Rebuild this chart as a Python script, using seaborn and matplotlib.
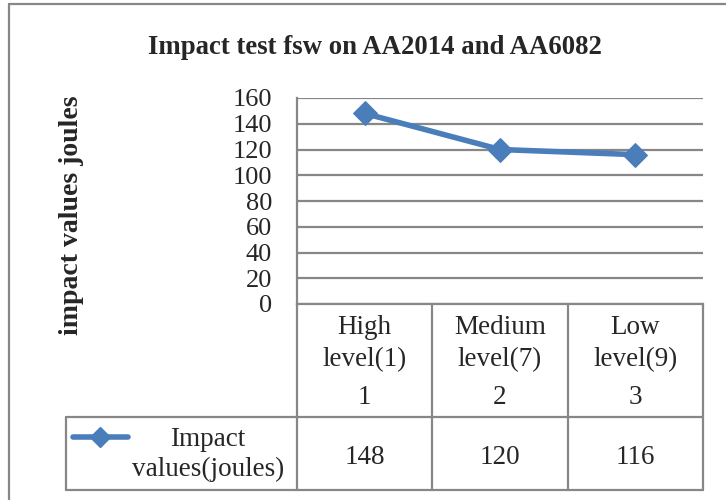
import matplotlib
matplotlib.use('Agg')
import matplotlib.pyplot as plt
import seaborn as sns
import pandas as pd
from matplotlib.lines import Line2D

sns.set_style("white")
plt.rcParams['font.family'] = ['Liberation Serif', 'DejaVu Serif']

# data
levels = ["High\nlevel(1)", "Medium\nlevel(7)", "Low\nlevel(9)"]
level_ids = [1, 2, 3]
impact = [148, 120, 116]
series_name = "Impact\nvalues(joules)"
yticks = [0, 20, 40, 60, 80, 100, 120, 140, 160]

LINE_BLUE = "#4A7EBB"
GRID = "#878787"

df = pd.DataFrame({"pos": range(len(levels)), "impact": impact})

fig = plt.figure(figsize=(7.26, 5.0), dpi=100)
ax = fig.add_axes([297/726, 1 - 304/500, 406/726, 206/500])

sns.lineplot(data=df, x="pos", y="impact", ax=ax, color=LINE_BLUE, lw=4,
             marker="D", markersize=12, markeredgecolor=LINE_BLUE)

ax.set_xlim(-0.5, len(levels) - 0.5)
ax.set_ylim(0, 160)
ax.set_yticks(yticks)
ax.set_yticklabels([str(v) for v in yticks], fontsize=19)
ax.tick_params(axis='y', length=0, pad=18)
ax.set_xticks([])
ax.set_xlabel(""); ax.set_ylabel("")
ax.yaxis.grid(True, color=GRID, lw=1.6)
ax.set_axisbelow(True)
for s in ["top", "right"]:
    ax.spines[s].set_visible(False)
for s in ["left", "bottom"]:
    ax.spines[s].set_color(GRID)
    ax.spines[s].set_linewidth(1.6)

# data table below the plot (x in data units, y in axes fraction)
tr = ax.get_xaxis_transform()
row1, row2 = -0.5485, -0.903
left_cell = -2.207
n = len(levels)
kw = dict(transform=tr, color=GRID, lw=1.6, clip_on=False)
for xb in [i - 0.5 for i in range(n + 1)]:
    ax.plot([xb, xb], [0, row2], **kw)
ax.plot([left_cell, left_cell], [row1, row2], **kw)
ax.plot([left_cell, n - 0.5], [row1, row1], **kw)
ax.plot([left_cell, n - 0.5], [row2, row2], **kw)

for i, (lab, lid, v) in enumerate(zip(levels, level_ids, impact)):
    ax.text(i, -0.192, lab, transform=tr, ha='center', va='center',
            fontsize=19.5, linespacing=1.37)
    ax.text(i, -0.455, str(lid), transform=tr, ha='center', va='center', fontsize=19.5)
    ax.text(i, -0.745, str(v), transform=tr, ha='center', va='center', fontsize=19.5)

# legend key inside the table
ax.plot([-2.155, -1.749], [-0.646, -0.646], transform=tr, color=LINE_BLUE,
        lw=4, solid_capstyle='round', clip_on=False)
ax.plot([-1.952], [-0.646], transform=tr, color=LINE_BLUE, marker="D",
        markersize=10, clip_on=False)
ax.text(-1.158, -0.73, series_name, transform=tr, ha='center', va='center',
        fontsize=19.5, linespacing=1.29)

# title and y label
fig.text(375/726, 1 - 48/500, "Impact test fsw on AA2014 and AA6082",
         ha='center', va='center', fontsize=19.3, fontweight='bold')
fig.text(72/726, 1 - 215/500, "impact values joules", rotation=90,
         ha='center', va='center', fontsize=20, fontweight='bold')

# outer chart frame
fig.add_artist(Line2D([9/726, 9/726], [0, 1 - 4/500], color=GRID, lw=1.6))
fig.add_artist(Line2D([9/726, 1], [1 - 4/500, 1 - 4/500], color=GRID, lw=1.6))

fig.savefig("out.png", dpi=100)
plt.close()
